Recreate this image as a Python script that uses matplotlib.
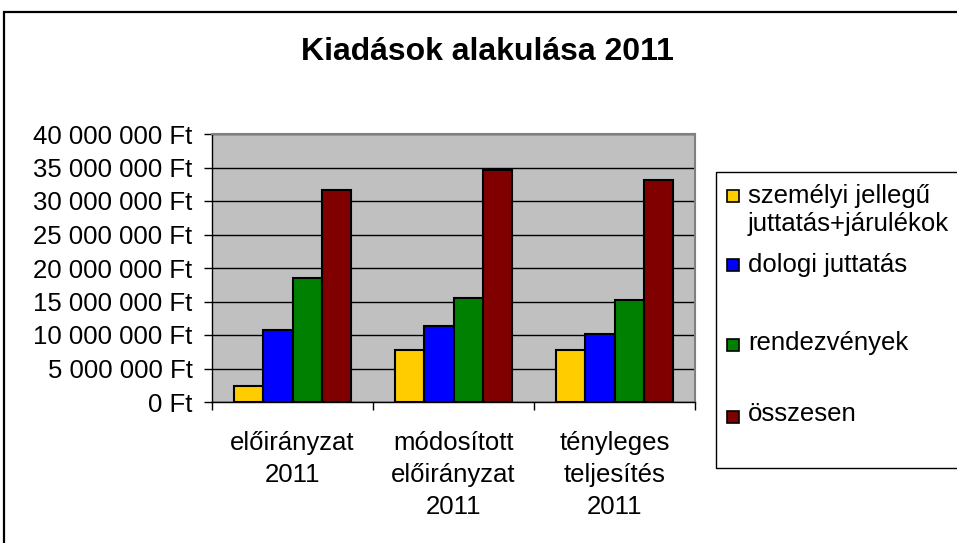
import numpy as np
import matplotlib
matplotlib.use("Agg")
import matplotlib.pyplot as plt
from matplotlib.patches import Rectangle

plt.rcParams['font.family'] = ['Liberation Sans', 'DejaVu Sans']

categories = ["előirányzat\n2011", "módosított\nelőirányzat\n2011", "tényleges\nteljesítés\n2011"]
series = ["személyi jellegű\njuttatás+járulékok", "dologi juttatás", "rendezvények", "összesen"]
szemelyi = [2.4e6, 7.8e6, 7.8e6]
dologi = [10.75e6, 11.35e6, 10.15e6]
rendezveny = [18.45e6, 15.45e6, 15.15e6]
osszesen = [31.6e6, 34.6e6, 33.1e6]
yticks = [0, 5e6, 10e6, 15e6, 20e6, 25e6, 30e6, 35e6, 40e6]
colors = ["#FFCC00", "#0000FF", "#008000", "#800000"]

W, H = 957, 543
fig = plt.figure(figsize=(W / 100, H / 100), dpi=100)


def fx(px):
    return px / W


def fy(py):
    return 1 - py / H


# chart frame
fig.patches.append(Rectangle((fx(4), fy(600)), 2, fy(12) - fy(600), transform=fig.transFigure,
                             fill=False, edgecolor="black", lw=1.6))

ax = fig.add_axes([fx(212), fy(402), fx(695) - fx(212), fy(134) - fy(402)])
ax.set_facecolor("#C0C0C0")

values = [szemelyi, dologi, rendezveny, osszesen]
n = len(series)
gw = 4 / 5.5
bw = gw / n
x = np.arange(len(categories))
for i, vals in enumerate(values):
    ax.bar(x - gw / 2 + bw * (i + 0.5), vals, width=bw, color=colors[i],
           edgecolor="black", linewidth=1.5, zorder=3)

ax.set_xlim(-0.5, len(categories) - 0.5)
ax.set_ylim(0, 40e6)
ax.set_yticks(yticks)
ax.set_yticklabels([f"{int(v):,} Ft".replace(",", " ") for v in yticks], fontsize=18.5)
ax.yaxis.grid(True, color="black", lw=1, zorder=1)
ax.set_xticks(np.arange(len(categories) + 1) - 0.5)
ax.set_xticklabels([])
ax.set_xticks(x, minor=True)
ax.set_xticklabels(categories, minor=True, fontsize=18.5, linespacing=1.42)
ax.tick_params(axis="x", which="minor", length=0, pad=21)
ax.tick_params(axis="x", which="major", length=6, width=1)
ax.tick_params(axis="y", length=6, width=1, pad=8)
for s in ["top", "right"]:
    ax.spines[s].set_color("#808080")
    ax.spines[s].set_linewidth(1.5)
for s in ["left", "bottom"]:
    ax.spines[s].set_color("black")
    ax.spines[s].set_linewidth(1)

fig.text(fx(487), fy(52), "Kiadások alakulása 2011", ha="center", va="center",
         fontsize=23, fontweight="bold")

# legend
fig.patches.append(Rectangle((fx(716), fy(468)), fx(260), fy(172) - fy(468), transform=fig.transFigure,
                             facecolor="white", edgecolor="black", lw=1))
marker_y = [196, 265, 345, 417]
baselines = [[203, 231], [272], [350], [421]]
for i, name in enumerate(series):
    fig.patches.append(Rectangle((fx(727), fy(marker_y[i] + 6)), fx(12), fy(0) - fy(12),
                                 transform=fig.transFigure, facecolor=colors[i],
                                 edgecolor="black", lw=1.2))
    for line, by in zip(name.split("\n"), baselines[i]):
        fig.text(fx(748), fy(by), line, ha="left", va="baseline", fontsize=18.5)

fig.savefig("out.png", dpi=100)
